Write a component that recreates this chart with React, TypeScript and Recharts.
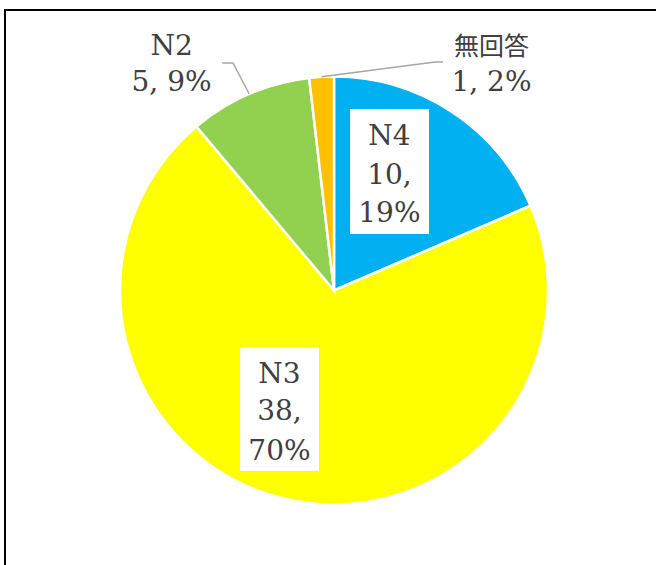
import React from "react";
import { PieChart, Pie, Cell } from "recharts";

const categories = ["N4", "N3", "N2", "無回答"];
const counts = [10, 38, 5, 1];
const colors = ["#00B0F0", "#FFFF00", "#92D050", "#FFC000"];

const data = categories.map((name, i) => ({ name, value: counts[i] }));
const total = counts.reduce((a, b) => a + b, 0);

// label layout in units of the outer radius, relative to the pie centre
type LabelSpec = {
  x: number;
  baselines: number[];
  box?: { l: number; r: number; t: number; b: number };
  leader?: { ex: number; ey: number; fx: number };
  split: boolean;
};
const labelSpecs: LabelSpec[] = [
  { x: 0.259, baselines: [-0.68, -0.498, -0.318], box: { l: 0.075, r: 0.444, t: -0.848, b: -0.264 }, split: true },
  { x: -0.255, baselines: [0.43, 0.607, 0.792], box: { l: -0.439, r: -0.07, t: 0.264, b: 0.843 }, split: true },
  { x: -0.759, baselines: [-1.1, -0.93], leader: { ex: -0.472, ey: -1.063, fx: -0.523 }, split: false },
  { x: 0.736, baselines: [-1.1, -0.93], leader: { ex: 0.472, ey: -1.068, fx: 0.509 }, split: false },
];

const SERIF = "'DejaVu Serif', 'Liberation Serif', serif";
const CJK = "'Noto Sans CJK JP', 'Noto Sans', sans-serif";
const TEXT = "#404040";

const renderLabel = (props: any) => {
  const { cx, cy, outerRadius, midAngle, index, value, name } = props;
  const r = outerRadius;
  const spec = labelSpecs[index];
  const pct = Math.round((value / total) * 100) + "%";
  const lines = spec.split ? [name, `${value},`, pct] : [name, `${value}, ${pct}`];
  const RAD = Math.PI / 180;
  const sx = cx + r * Math.cos(-midAngle * RAD);
  const sy = cy + r * Math.sin(-midAngle * RAD);
  return (
    <g key={`lbl-${index}`}>
      {spec.box && (
        <rect
          x={cx + spec.box.l * r}
          y={cy + spec.box.t * r}
          width={(spec.box.r - spec.box.l) * r}
          height={(spec.box.b - spec.box.t) * r}
          fill="#FFFFFF"
        />
      )}
      {spec.leader && (
        <polyline
          points={`${sx},${sy} ${cx + spec.leader.ex * r},${cy + spec.leader.ey * r} ${cx + spec.leader.fx * r},${cy + spec.leader.ey * r}`}
          fill="none"
          stroke="#A6A6A6"
          strokeWidth={1.5}
        />
      )}
      {lines.map((t, i) => {
        const isCJK = /[\u3040-\u9fff]/.test(String(t));
        return (
          <text
            key={i}
            x={cx + spec.x * r}
            y={cy + spec.baselines[i] * r}
            textAnchor="middle"
            fill={TEXT}
            fontFamily={isCJK ? CJK : SERIF}
            fontSize={isCJK ? 25 : 28}
          >
            {t}
          </text>
        );
      })}
    </g>
  );
};

export default function App() {
  return (
    <div style={{ position: "absolute", left: 0, top: 0, width: 656, height: 565, overflow: "hidden", background: "#fff" }}>
      <div
        style={{
          position: "absolute",
          left: 4,
          top: 9,
          width: 700,
          height: 620,
          border: "2px solid #000",
          boxSizing: "border-box",
        }}
      />
      <div style={{ position: "absolute", left: 0, top: 0 }}>
        <PieChart width={656} height={565} margin={{ top: 0, right: 0, bottom: 0, left: 0 }}>
          <Pie
            data={data}
            dataKey="value"
            nameKey="name"
            cx={334}
            cy={290.5}
            outerRadius={214}
            startAngle={90}
            endAngle={-270}
            stroke="#FFFFFF"
            strokeWidth={2.5}
            label={renderLabel}
            labelLine={false}
            isAnimationActive={false}
          >
            {data.map((d, i) => (
              <Cell key={d.name} fill={colors[i]} />
            ))}
          </Pie>
        </PieChart>
      </div>
    </div>
  );
}
